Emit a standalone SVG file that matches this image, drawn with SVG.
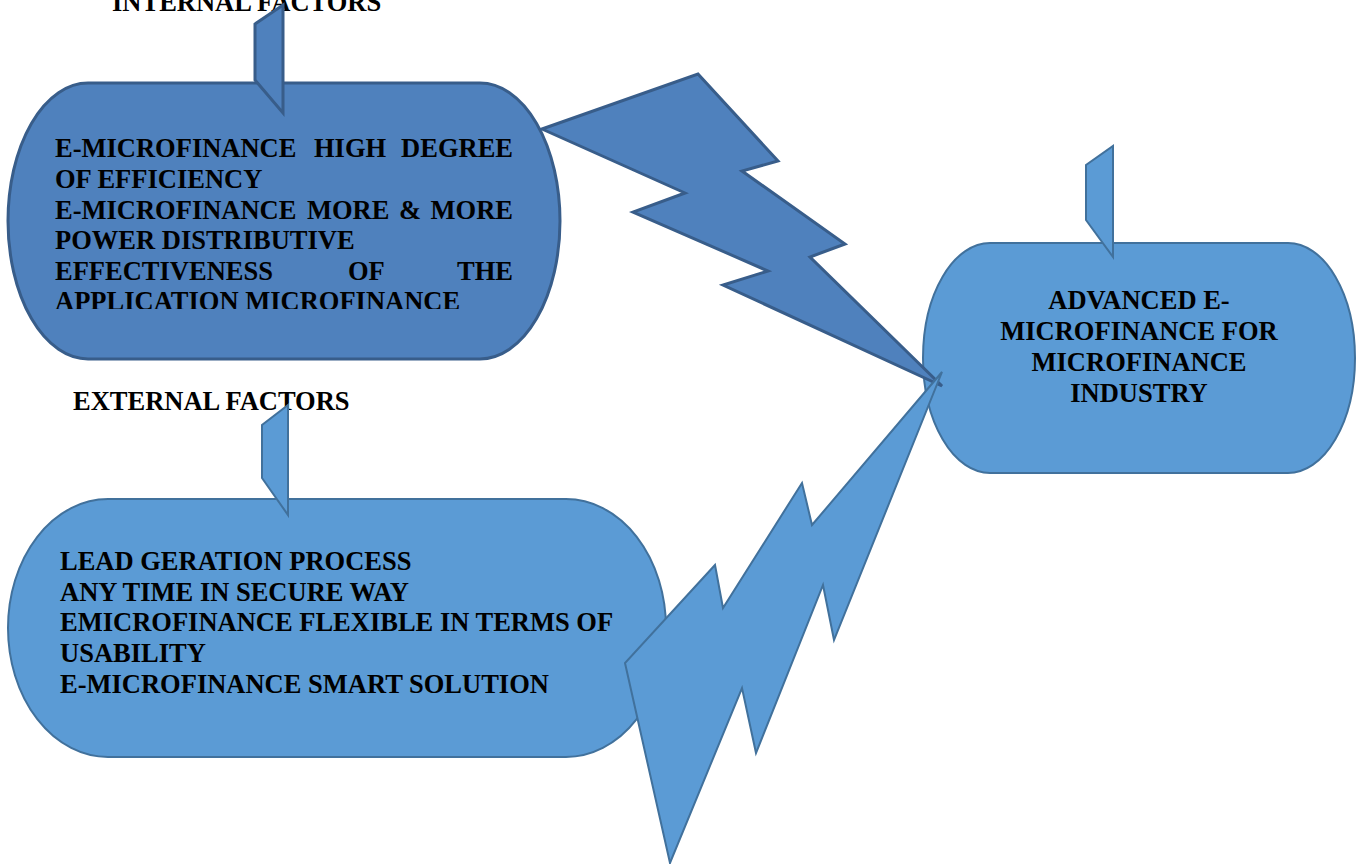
<svg xmlns="http://www.w3.org/2000/svg" width="1363" height="864" viewBox="0 0 1363 864">
<style>
.dark{fill:#4F81BD;stroke:#385D8A;stroke-width:3;stroke-linejoin:miter}
.light{fill:#5B9BD5;stroke:#41719C;stroke-width:2;stroke-linejoin:miter}
.t{font-family:"Liberation Serif","Times New Roman",serif;font-weight:bold;font-size:26.5px;fill:#000}
</style>
<defs>
<clipPath id="clipInt"><rect x="0" y="0" width="1363" height="309"/></clipPath>
</defs>
<rect width="1363" height="864" fill="#fff"/>

<g id="internal">
<text class="t" x="112" y="11">INTERNAL FACTORS</text>
<rect class="dark" x="8" y="83" width="552" height="276" rx="80" ry="138"/>
<polygon class="dark" points="283,5 283,113 255,80 255,24"/>
<g clip-path="url(#clipInt)">
<text class="t" y="157"><tspan x="55">E-MICROFINANCE</tspan><tspan x="314">HIGH</tspan><tspan x="513" text-anchor="end">DEGREE</tspan></text>
<text class="t" x="55" y="188">OF EFFICIENCY</text>
<text class="t" y="219"><tspan x="55">E-MICROFINANCE</tspan><tspan x="307">MORE</tspan><tspan x="399">&amp;</tspan><tspan x="513" text-anchor="end">MORE</tspan></text>
<text class="t" x="55" y="249">POWER DISTRIBUTIVE</text>
<text class="t" y="280"><tspan x="55">EFFECTIVENESS</tspan><tspan x="348">OF</tspan><tspan x="513" text-anchor="end">THE</tspan></text>
<text class="t" x="55" y="310">APPLICATION MICROFINANCE</text>
</g>
</g>

<g id="external">
<text class="t" x="73" y="410">EXTERNAL FACTORS</text>
<rect class="light" x="8" y="499" width="658" height="258" rx="100" ry="129"/>
<polygon class="light" points="288,405 288,515 262,478 262,425"/>
<text class="t" x="60" y="570">LEAD GERATION PROCESS</text>
<text class="t" x="60" y="601">ANY TIME IN SECURE WAY</text>
<text class="t" x="60" y="631">EMICROFINANCE FLEXIBLE IN TERMS OF</text>
<text class="t" x="60" y="662">USABILITY</text>
<text class="t" x="60" y="693">E-MICROFINANCE SMART SOLUTION</text>
</g>

<g id="advanced">
<rect class="light" x="923" y="243" width="432" height="230" rx="67" ry="115"/>
<polygon class="light" points="1113,146 1113,257 1086,220 1086,165"/>
<text class="t" x="1139" y="309" text-anchor="middle">ADVANCED E-</text>
<text class="t" x="1139" y="340" text-anchor="middle">MICROFINANCE FOR</text>
<text class="t" x="1139" y="371" text-anchor="middle">MICROFINANCE</text>
<text class="t" x="1139" y="402" text-anchor="middle">INDUSTRY</text>
</g>

<g id="connectors">
<polygon class="dark" points="542,129 698,74 778,161 742,171 845,244 810,257 942,386 723,285 768,271 633,212 685,193"/>
<polygon class="light" points="942,372 812,525 802,483 723,608 715,565 625,663 670,863 742,688 756,753 823,585 834,640"/>
</g>
</svg>
